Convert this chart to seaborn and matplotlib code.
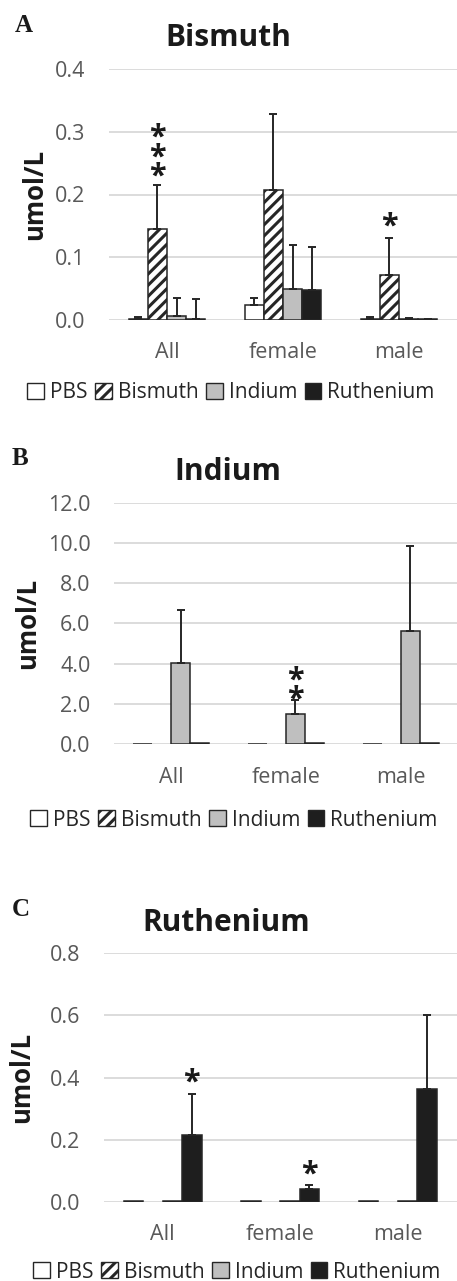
import numpy as np
import pandas as pd
import matplotlib
matplotlib.use("Agg")
import matplotlib.pyplot as plt
from matplotlib.patches import Patch
import seaborn as sns

# ---------------- data ----------------
groups = ["All", "female", "male"]
treatments = ["PBS", "Bismuth", "Indium", "Ruthenium"]

# Panel A - Bismuth (umol/L)
bi_pbs = [0.001, 0.024, 0.001]
bi_bis = [0.145, 0.207, 0.072]
bi_ind = [0.006, 0.050, 0.001]
bi_ru = [0.001, 0.048, 0.001]
bi_pbs_err = [0.004, 0.011, 0.003]
bi_bis_err = [0.070, 0.121, 0.059]
bi_ind_err = [0.029, 0.070, 0.002]
bi_ru_err = [0.032, 0.069, 0.001]
bi_ticks = [0.0, 0.1, 0.2, 0.3, 0.4]
bi_sig = [("All", "Bismuth", "***"), ("male", "Bismuth", "*")]

# Panel B - Indium (umol/L)
in_pbs = [0.02, 0.02, 0.02]
in_bis = [0.0, 0.0, 0.0]
in_ind = [4.03, 1.50, 5.63]
in_ru = [0.05, 0.06, 0.06]
in_pbs_err = [0.0, 0.0, 0.0]
in_bis_err = [0.0, 0.0, 0.0]
in_ind_err = [2.65, 0.70, 4.23]
in_ru_err = [0.0, 0.0, 0.0]
in_ticks = [0.0, 2.0, 4.0, 6.0, 8.0, 10.0, 12.0]
in_sig = [("female", "Indium", "**")]

# Panel C - Ruthenium (umol/L)
ru_pbs = [0.001, 0.001, 0.001]
ru_bis = [0.0, 0.0, 0.0]
ru_ind = [0.001, 0.001, 0.001]
ru_ru = [0.215, 0.041, 0.364]
ru_pbs_err = [0.0, 0.0, 0.0]
ru_bis_err = [0.0, 0.0, 0.0]
ru_ind_err = [0.0, 0.0, 0.0]
ru_ru_err = [0.131, 0.012, 0.237]
ru_ticks = [0.0, 0.2, 0.4, 0.6, 0.8]
ru_sig = [("All", "Ruthenium", "*"), ("female", "Ruthenium", "*")]

titles = ["Bismuth", "Indium", "Ruthenium"]
letters = ["A", "B", "C"]
ylabel = "umol/L"

# ---------------- style ----------------
sns.set_style("white")
plt.rcParams["font.family"] = ["Open Sans", "DejaVu Sans"]
plt.rcParams["hatch.linewidth"] = 2.2
plt.rcParams["hatch.color"] = "#1a1a1a"

colors = {"PBS": "#ffffff", "Bismuth": "#ffffff", "Indium": "#bfbfbf", "Ruthenium": "#1e1e1e"}
hatches = {"PBS": None, "Bismuth": "///", "Indium": None, "Ruthenium": None}
EDGE = "#262626"
TICKC = "#595959"
GRID = "#d9d9d9"
STAR_FS = 22

W, H = 457, 1281
fig = plt.figure(figsize=(W / 100, H / 100), dpi=100)


def fx(px):
    return px / W


def fy(py):
    return 1 - py / H


def make_df(means, errs):
    rows = []
    for t, m, e in zip(treatments, means, errs):
        for g, v, ev in zip(groups, m, e):
            rows.append({"group": g, "treatment": t, "value": v, "err": ev})
    return pd.DataFrame(rows)


panels = [
    dict(df=make_df([bi_pbs, bi_bis, bi_ind, bi_ru], [bi_pbs_err, bi_bis_err, bi_ind_err, bi_ru_err]),
         ticks=bi_ticks, sig=bi_sig, rect=(109, 69, 457, 320), title_xy=(228, 38), letter_xy=(24, 26),
         ylab_xy=(35, 194), leg_xy=(231, 393), sig_off=[13, 15.7]),
    dict(df=make_df([in_pbs, in_bis, in_ind, in_ru], [in_pbs_err, in_bis_err, in_ind_err, in_ru_err]),
         ticks=in_ticks, sig=in_sig, rect=(114, 502.7, 458, 744.3), title_xy=(228, 472), letter_xy=(20, 459),
         ylab_xy=(28, 623.5), leg_xy=(234, 820), sig_off=[5]),
    dict(df=make_df([ru_pbs, ru_bis, ru_ind, ru_ru], [ru_pbs_err, ru_bis_err, ru_ind_err, ru_ru_err]),
         ticks=ru_ticks, sig=ru_sig, rect=(104, 953.3, 456.5, 1201.7), title_xy=(226, 923), letter_xy=(21, 910),
         ylab_xy=(22, 1077.5), leg_xy=(237, 1272), sig_off=[17, 16]),
]

for i, p in enumerate(panels):
    l, t, r, b = p["rect"]
    ax = fig.add_axes([fx(l), fy(b), fx(r - l), (b - t) / H])
    df = p["df"]
    sns.barplot(data=df, x="group", y="value", hue="treatment", order=groups, hue_order=treatments,
                palette=colors, width=0.66, errorbar=None, edgecolor=EDGE, linewidth=1.1,
                saturation=1, legend=False, ax=ax, zorder=3)
    centers = {}
    for ti, (tname, cont) in enumerate(zip(treatments, ax.containers)):
        sub = df[df["treatment"] == tname].set_index("group").loc[groups]
        xs = []
        for bar, gname in zip(cont, groups):
            if hatches[tname]:
                bar.set_hatch(hatches[tname])
            if bar.get_height() == 0:
                bar.set_linewidth(0)
            xc = bar.get_x() + bar.get_width() / 2
            xs.append(xc)
            centers[(gname, tname)] = xc
        errs = sub["err"].values
        vals = sub["value"].values
        mask = errs > 0
        if mask.any():
            ax.errorbar(np.array(xs)[mask], vals[mask],
                        yerr=[np.zeros(mask.sum()), errs[mask]],
                        fmt="none", ecolor="#262626", elinewidth=1.4, capsize=2.9, capthick=1.4, zorder=4)
    # significance stars (stacked vertically)
    fs_px = STAR_FS / 0.72
    for k, (g, tname, stars) in enumerate(p["sig"]):
        sub = df[(df["group"] == g) & (df["treatment"] == tname)].iloc[0]
        ytop = sub["value"] + sub["err"]
        base = p["sig_off"][k]
        ax.annotate("\n".join("*" * len(stars)), xy=(centers[(g, tname)], ytop),
                    xytext=(0, (base - 0.65 * fs_px) * 0.72), textcoords="offset points",
                    ha="center", va="bottom", fontsize=STAR_FS, linespacing=0.55,
                    fontweight="bold", color="#1a1a1a", zorder=5, annotation_clip=False)
    ax.set_xlim(-0.5, 2.5)
    ax.set_ylim(p["ticks"][0], p["ticks"][-1])
    ax.set_yticks(p["ticks"])
    ax.set_yticklabels([f"{v:.1f}" for v in p["ticks"]])
    ax.yaxis.grid(True, color=GRID, linewidth=1.3, zorder=0)
    ax.set_axisbelow(True)
    for sp in ax.spines.values():
        sp.set_visible(False)
    ax.tick_params(axis="y", length=0, pad=17, labelsize=15.5, labelcolor=TICKC)
    ax.tick_params(axis="x", length=0, pad=16, labelsize=15.5, labelcolor=TICKC)
    ax.set_xlabel("")
    ax.set_ylabel("")
    # title, letter, y label
    fig.text(fx(p["title_xy"][0]), fy(p["title_xy"][1]), titles[i], ha="center", va="center",
             fontsize=21.5, fontweight="bold", color="#1a1a1a")
    fig.text(fx(p["letter_xy"][0]), fy(p["letter_xy"][1]), letters[i], ha="center", va="center",
             fontsize=18, fontweight="bold", family="Liberation Serif", color="#1a1a1a")
    fig.text(fx(p["ylab_xy"][0]), fy(p["ylab_xy"][1]), ylabel, ha="center", va="center", rotation=90,
             fontsize=18.5, fontweight="bold", color="#1a1a1a")
    # legend
    handles = [Patch(facecolor=colors[t], edgecolor=EDGE, hatch=hatches[t], linewidth=1.0, label=t)
               for t in treatments]
    fig.legend(handles=handles, loc="center", bbox_to_anchor=(fx(p["leg_xy"][0]), fy(p["leg_xy"][1])),
               ncol=4, frameon=False, fontsize=15, handlelength=0.8, handleheight=0.8,
               handletextpad=0.3, columnspacing=0.35, borderpad=0, labelcolor="#262626")

fig.savefig("out.png", dpi=100)
